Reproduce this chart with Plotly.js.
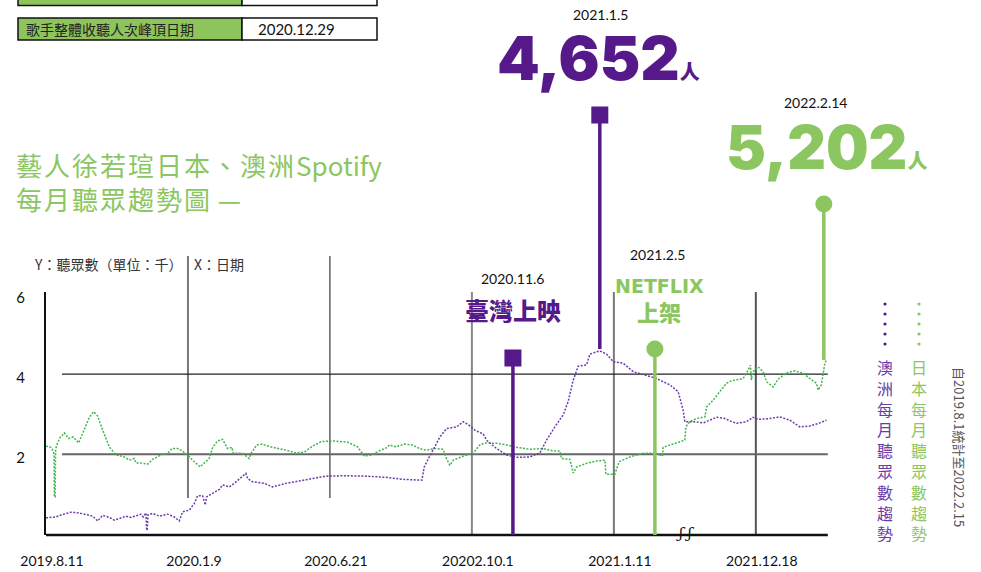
<!DOCTYPE html>
<html>
<head>
<meta charset="utf-8">
<script src="https://cdn.plot.ly/plotly-3.0.1.min.js"></script>
<style>
body { margin: 0; background: #fff; }
#grafico { width: 981px; height: 572px; }
</style>
</head>
<body>
<div id="grafico"></div>
<script>
/* global Plotly */

// eixo x: posição de cada rótulo de data (o eixo não é linear no tempo)
var rotulosX = ['2019.8.11', '2020.1.9', '2020.6.21', '20202.10.1', '2021.1.11', '2021.12.18'];
var posRotulosX = [0, 1, 2, 3, 4, 5];
var rotulosY = ['2', '4', '6'];
var posRotulosY = [2, 4, 6];

// Japão (verde) - ouvintes mensais, em milhares
var japaoX = [0, 0.035, 0.052, 0.057, 0.059, 0.064, 0.068, 0.094, 0.129, 0.16,
    0.192, 0.23, 0.263, 0.305, 0.336, 0.364, 0.399, 0.446, 0.493, 0.552,
    0.587, 0.622, 0.634, 0.669, 0.716, 0.751, 0.81, 0.857, 0.887, 0.927,
    0.951, 0.998, 1.033, 1.085, 1.115, 1.15, 1.174, 1.209, 1.244, 1.279,
    1.31, 1.319, 1.385, 1.432, 1.444, 1.484, 1.521, 1.596, 1.69, 1.76,
    1.819, 1.878, 1.937, 2.019, 2.124, 2.195, 2.242, 2.289, 2.347, 2.406,
    2.418, 2.465, 2.523, 2.582, 2.629, 2.676, 2.746, 2.798, 2.817, 2.845,
    2.869, 2.962, 3.009, 3.056, 3.092, 3.174, 3.245, 3.315, 3.408, 3.502,
    3.572, 3.62, 3.631, 3.69, 3.714, 3.737, 3.808, 3.878, 3.937, 3.944,
    4.007, 4.037, 4.113, 4.207, 4.3, 4.343, 4.347, 4.441, 4.5, 4.507,
    4.535, 4.582, 4.641, 4.653, 4.7, 4.746, 4.793, 4.828, 4.911, 4.934,
    4.962, 4.969, 4.98, 5.016, 5.051, 5.075, 5.122, 5.157, 5.216, 5.275,
    5.333, 5.38, 5.427, 5.439, 5.462, 5.486, 5.497];
var japaoY = [2.2, 2.17, 2.06, 2.0, 0.93, 0.93, 2.14, 2.39, 2.53, 2.39,
    2.43, 2.28, 2.56, 2.92, 3.06, 2.95, 2.6, 2.18, 1.98, 1.93,
    1.85, 1.89, 1.78, 1.78, 1.75, 1.87, 1.98, 2.02, 2.14, 2.14,
    2.1, 1.98, 1.85, 1.68, 1.78, 1.89, 2.17, 2.33, 2.37, 2.14,
    2.17, 2.02, 2.02, 1.89, 2.02, 2.23, 2.25, 2.17, 2.1, 2.03,
    2.05, 2.2, 2.31, 2.33, 2.3, 2.18, 1.95, 1.98, 2.08, 2.17,
    2.23, 2.18, 2.25, 2.23, 2.14, 2.1, 2.14, 2.12, 1.92, 1.72,
    1.85, 1.98, 2.02, 2.23, 2.28, 2.27, 2.23, 2.17, 2.12, 2.14,
    2.08, 2.08, 1.89, 1.87, 1.53, 1.68, 1.77, 1.83, 1.85, 1.5,
    1.5, 1.81, 1.93, 2.02, 2.02, 1.95, 2.17, 2.27, 2.35, 2.68,
    2.81, 2.89, 2.93, 3.18, 3.35, 3.56, 3.77, 3.83, 3.89, 4.02,
    4.22, 3.85, 4.06, 4.18, 4.06, 3.81, 3.68, 3.87, 4.03, 4.08,
    4.02, 3.89, 3.77, 3.6, 3.73, 4.27, 4.35];

// Austrália (roxo)
var australiaX = [0, 0.07, 0.106, 0.176, 0.235, 0.293, 0.329, 0.364, 0.399, 0.446,
    0.481, 0.516, 0.563, 0.599, 0.669, 0.685, 0.704, 0.709, 0.713, 0.718,
    0.751, 0.798, 0.857, 0.904, 0.939, 0.962, 1.009, 1.045, 1.068, 1.103,
    1.122, 1.131, 1.174, 1.221, 1.244, 1.291, 1.326, 1.362, 1.408, 1.42,
    1.455, 1.538, 1.596, 1.69, 1.784, 1.878, 1.972, 2.113, 2.254, 2.394,
    2.512, 2.648, 2.664, 2.7, 2.735, 2.775, 2.822, 2.892, 2.939, 2.974,
    3.021, 3.08, 3.103, 3.174, 3.245, 3.315, 3.408, 3.479, 3.526, 3.584,
    3.643, 3.678, 3.714, 3.749, 3.808, 3.831, 3.901, 3.948, 3.995, 4.066,
    4.136, 4.207, 4.3, 4.394, 4.453, 4.488, 4.5, 4.559, 4.629, 4.723,
    4.782, 4.817, 4.864, 4.934, 4.98, 5.016, 5.075, 5.169, 5.239, 5.31,
    5.38, 5.451, 5.498];
var australiaY = [0.41, 0.43, 0.48, 0.55, 0.53, 0.48, 0.45, 0.33, 0.47, 0.42,
    0.35, 0.39, 0.45, 0.42, 0.5, 0.43, 0.53, 0.1, 0.1, 0.48,
    0.52, 0.45, 0.5, 0.43, 0.33, 0.56, 0.6, 0.77, 0.96, 0.96,
    0.73, 0.93, 1.02, 1.12, 1.23, 1.18, 1.27, 1.37, 1.52, 1.39,
    1.31, 1.27, 1.18, 1.27, 1.33, 1.39, 1.45, 1.46, 1.45, 1.42,
    1.37, 1.35, 1.68, 1.93, 2.17, 2.43, 2.64, 2.68, 2.81, 2.74,
    2.6, 2.5, 2.35, 2.14, 1.98, 1.92, 1.93, 2.03, 2.35, 2.68,
    2.98, 3.31, 3.85, 4.2, 4.23, 4.5, 4.58, 4.5, 4.31, 4.27,
    4.06, 3.98, 3.89, 3.73, 3.56, 3.1, 2.81, 2.81, 2.78, 2.92,
    2.89, 2.83, 2.77, 2.81, 2.92, 2.87, 2.88, 2.93, 2.85, 2.68,
    2.7, 2.78, 2.85];

// eventos marcados no gráfico
var eventoX = [3.289, 3.901, 4.289, 5.479];
var eventoData = ['2020.11.6', '2021.1.5', '2021.2.5', '2022.2.14'];

var roxo = '#55198a';
var verde = '#8cc660';
var fonteCJK = '"Noto Sans CJK TC", "Noto Sans", sans-serif';
var fonteNum = 'Lato, "Noto Sans", sans-serif';

// pixel -> coordenada paper (área do gráfico: x 46..841, y 292..535)
function PX(p) { return (p - 46) / 795; }
function PY(p) { return (535 - p) / 243; }

function desenhar() {
    var dados = [{
        x: japaoX, y: japaoY,
        mode: 'lines', type: 'scatter',
        line: {color: '#3fb54b', width: 1.5, dash: '2px,1.5px'},
        hoverinfo: 'skip'
    }, {
        x: australiaX, y: australiaY,
        mode: 'lines', type: 'scatter',
        line: {color: '#6a3ca8', width: 1.5, dash: '2px,1.5px'},
        hoverinfo: 'skip'
    }];

    var formas = [];
    var notas = [];

    // tabela no topo
    formas.push({type: 'rect', xref: 'paper', yref: 'paper', x0: PX(18), x1: PX(242), y0: PY(5.5), y1: PY(-10),
        fillcolor: '#8dc45c', line: {color: '#111', width: 1.5}});
    formas.push({type: 'rect', xref: 'paper', yref: 'paper', x0: PX(242), x1: PX(377), y0: PY(5.5), y1: PY(-10),
        fillcolor: '#fff', line: {color: '#111', width: 1.5}});
    formas.push({type: 'rect', xref: 'paper', yref: 'paper', x0: PX(18), x1: PX(242), y0: PY(40), y1: PY(18),
        fillcolor: '#8dc45c', line: {color: '#111', width: 1.5}});
    formas.push({type: 'rect', xref: 'paper', yref: 'paper', x0: PX(242), x1: PX(377), y0: PY(40), y1: PY(18),
        fillcolor: '#fff', line: {color: '#111', width: 1.5}});
    notas.push({xref: 'paper', yref: 'paper', x: PX(24), y: PY(29), xanchor: 'left', yanchor: 'middle',
        text: '歌手整體收聽人次峰頂日期', showarrow: false, font: {family: fonteCJK, size: 14, color: '#222'}});
    notas.push({xref: 'paper', yref: 'paper', x: PX(256), y: PY(29), xanchor: 'left', yanchor: 'middle',
        text: '2020.12.29', showarrow: false, font: {family: fonteNum, size: 15, color: '#111'}});

    // linhas de referência horizontais
    formas.push({type: 'line', xref: 'x', yref: 'y', x0: 0.113, x1: 5.507, y0: 4, y1: 4, line: {color: '#222', width: 1.2}, layer: 'below'});
    formas.push({type: 'line', xref: 'x', yref: 'y', x0: 0.113, x1: 5.507, y0: 2, y1: 2, line: {color: '#666', width: 2}, layer: 'below'});

    // linhas verticais das datas
    var topos = [256, 256, 292, 292, 292];
    var bases = [498, 498, 535, 535, 535];
    var cores = ['#777', '#111', '#888', '#777', '#555'];
    var larguras = [2, 1, 2, 2, 2];
    for (var i = 1; i <= 5; i++) {
        formas.push({type: 'line', xref: 'x', yref: 'paper', x0: posRotulosX[i], x1: posRotulosX[i],
            y0: PY(bases[i-1]), y1: PY(topos[i-1]), line: {color: cores[i-1], width: larguras[i-1]}, layer: 'below'});
    }

    // eixo x
    formas.push({type: 'line', xref: 'x', yref: 'paper', x0: -0.01, x1: 5.507, y0: 0, y1: 0, line: {color: '#111', width: 2.5}});

    // hastes e marcadores dos eventos
    var hasteTopo = [358, 115, 349, 204];
    var hasteBase = [535, 349, 535, 360];
    var hasteCor = [roxo, roxo, verde, verde];
    var marcador = ['rect', 'rect', 'circle', 'circle'];
    for (var k = 0; k < eventoX.length; k++) {
        formas.push({type: 'line', xref: 'x', yref: 'paper', x0: eventoX[k], x1: eventoX[k],
            y0: PY(hasteBase[k]), y1: PY(hasteTopo[k]), line: {color: hasteCor[k], width: 3.5}});
        formas.push({type: marcador[k], xref: 'x', yref: 'paper',
            xsizemode: 'pixel', ysizemode: 'pixel', xanchor: eventoX[k], yanchor: PY(hasteTopo[k]),
            x0: -8.5, x1: 8.5, y0: -8.5, y1: 8.5, fillcolor: hasteCor[k], line: {width: 0}});
    }

    // título
    notas.push({xref: 'paper', yref: 'paper', x: PX(14), y: PY(144), xanchor: 'left', yanchor: 'top', align: 'left',
        text: '<span style="letter-spacing:2px">藝人徐若瑄日本、澳洲</span>Spotify<br><span style="letter-spacing:2px">每月聽眾趨勢圖</span> —',
        showarrow: false, font: {family: fonteCJK, size: 26, color: verde}});

    // legenda dos eixos
    notas.push({xref: 'paper', yref: 'paper', x: PX(32), y: PY(264), xanchor: 'left', yanchor: 'middle',
        text: 'Y：聽眾數（單位：千）', showarrow: false, font: {family: fonteCJK, size: 14, color: '#333'}});
    notas.push({xref: 'paper', yref: 'paper', x: PX(192), y: PY(264), xanchor: 'left', yanchor: 'middle',
        text: 'X：日期', showarrow: false, font: {family: fonteCJK, size: 14, color: '#333'}});

    // textos dos eventos
    var dataY = [278, 14, 254, 102];
    var dataCx = [512, 600, 657, 815];
    for (var m = 0; m < eventoData.length; m++) {
        notas.push({xref: 'paper', yref: 'paper', x: PX(dataCx[m]), y: PY(dataY[m]), xanchor: 'center', yanchor: 'middle',
            text: eventoData[m], showarrow: false, font: {family: fonteNum, size: 14, color: '#111'}});
    }
    notas.push({xref: 'paper', yref: 'paper', x: PX(513), y: PY(309), xanchor: 'center', yanchor: 'middle',
        text: '臺灣上映', showarrow: false, font: {family: fonteCJK, size: 24, color: roxo, weight: 900}});
    notas.push({xref: 'paper', yref: 'paper', x: PX(659), y: PY(286), xanchor: 'center', yanchor: 'middle',
        text: 'NETFLIX', showarrow: false, font: {family: '"DejaVu Sans", sans-serif', size: 19, color: verde, weight: 900}});
    notas.push({xref: 'paper', yref: 'paper', x: PX(659), y: PY(311), xanchor: 'center', yanchor: 'middle',
        text: '上架', showarrow: false, font: {family: fonteCJK, size: 22, color: verde, weight: 900}});
    var sufixo = '<span style="font-size:20px;font-family:\'Noto Sans CJK TC\'">人</span>';
    notas.push({xref: 'paper', yref: 'paper', x: PX(598), y: PY(58), xanchor: 'center', yanchor: 'middle',
        text: '4,652' + sufixo, showarrow: false,
        font: {family: 'Inter, "DejaVu Sans", sans-serif', size: 61, color: roxo, weight: 900}});
    notas.push({xref: 'paper', yref: 'paper', x: PX(826), y: PY(147), xanchor: 'center', yanchor: 'middle',
        text: '5,202' + sufixo, showarrow: false,
        font: {family: 'Inter, "DejaVu Sans", sans-serif', size: 60, color: verde, weight: 900}});

    // quebra do eixo
    notas.push({xref: 'paper', yref: 'paper', x: PX(685), y: PY(533), xanchor: 'center', yanchor: 'middle',
        text: '<i>ʃ ʃ</i>', showarrow: false, font: {family: '"DejaVu Serif", serif', size: 15, color: '#111'}});

    // legenda vertical
    var legendas = [['澳洲每月聽眾數趨勢', 885, '#6a3ca8', '#55198a'], ['日本每月聽眾數趨勢', 919, verde, verde]];
    for (var l = 0; l < legendas.length; l++) {
        notas.push({xref: 'paper', yref: 'paper', x: PX(legendas[l][1]), y: PY(353), xanchor: 'center', yanchor: 'top',
            text: legendas[l][0].split('').join('<br>'), showarrow: false,
            font: {family: fonteCJK, size: 16, color: legendas[l][2]}});
        for (var d = 0; d < 5; d++) {
            formas.push({type: 'circle', xref: 'paper', yref: 'paper', xsizemode: 'pixel', ysizemode: 'pixel',
                xanchor: PX(legendas[l][1]), yanchor: PY(304 + d * 10), x0: -1.6, x1: 1.6, y0: -1.6, y1: 1.6,
                fillcolor: legendas[l][3], line: {width: 0}});
        }
    }
    notas.push({xref: 'paper', yref: 'paper', x: PX(960), y: PY(447), xanchor: 'center', yanchor: 'middle', textangle: 90,
        text: '自2019.8.1統計至2022.2.15', showarrow: false, font: {family: fonteCJK, size: 13, color: '#555'}});

    var estilo = {
        width: 981, height: 572,
        margin: {l: 46, r: 140, t: 292, b: 37},
        paper_bgcolor: '#fff', plot_bgcolor: 'rgba(0,0,0,0)',
        showlegend: false,
        xaxis: {
            range: [0, 5.6], showgrid: false, zeroline: false, showline: false, ticks: '',
            tickvals: posRotulosX, ticktext: rotulosX, ticklabelshift: 6, ticklabelstandoff: 16,
            tickfont: {family: fonteNum, size: 14, color: '#111'}
        },
        yaxis: {
            range: [-0.02, 6.05], showgrid: false, zeroline: false, showline: true, linecolor: '#111', linewidth: 2,
            ticks: '', tickvals: posRotulosY, ticktext: rotulosY, ticklabelshift: 4, ticklabelstandoff: 16,
            tickfont: {family: fonteNum, size: 15, color: '#111'}
        },
        shapes: formas,
        annotations: notas
    };

    Plotly.newPlot('grafico', dados, estilo, {staticPlot: true});
}

desenhar();
</script>
</body>
</html>
